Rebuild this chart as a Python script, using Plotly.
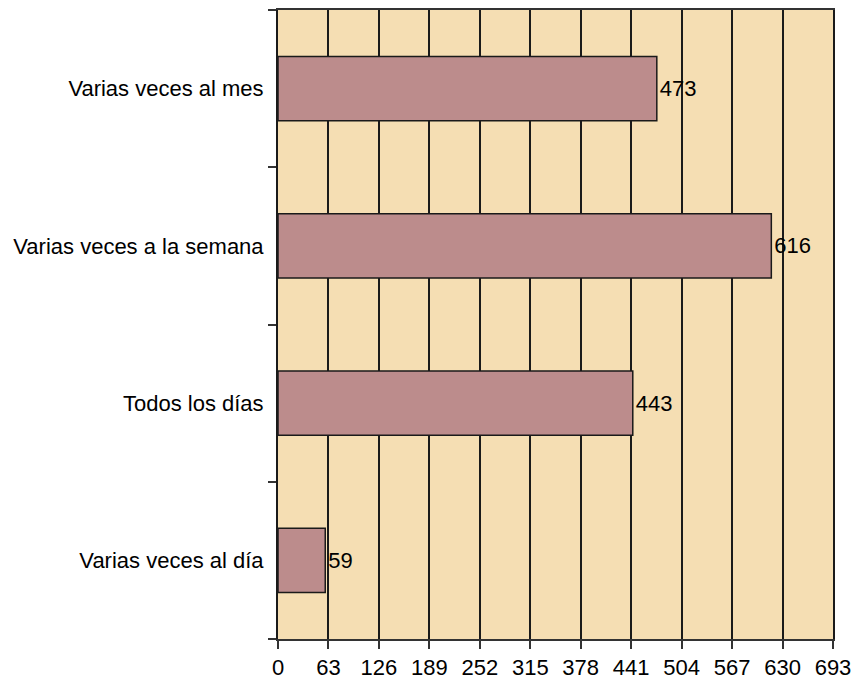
import plotly.graph_objects as go

categories = ["Varias veces al día", "Todos los días", "Varias veces a la semana", "Varias veces al mes"]
values = [59, 443, 616, 473]
x_ticks = [0, 63, 126, 189, 252, 315, 378, 441, 504, 567, 630, 693]

FONT = "Liberation Sans"
FS = 22

fig = go.Figure(go.Bar(
    y=categories,
    x=values,
    orientation="h",
    width=0.41,
    marker=dict(color="#BC8C8C", line=dict(color="#1a1a1a", width=1.5)),
    text=[str(v) for v in values],
    textposition="outside",
    textfont=dict(family=FONT, size=FS, color="#000000"),
    cliponaxis=False,
))

fig.update_layout(
    width=853, height=680,
    margin=dict(l=278, r=20, t=10, b=41, pad=0, autoexpand=False),
    paper_bgcolor="#FFFFFF",
    plot_bgcolor="#F5DEB3",
    showlegend=False,
    font=dict(family=FONT, size=FS, color="#000000"),
    bargap=0.59,
)

fig.update_xaxes(
    range=[0, 693],
    tickvals=x_ticks,
    ticktext=[str(t) for t in x_ticks],
    showgrid=True, gridcolor="#1a1a1a", gridwidth=1.5,
    showline=True, linecolor="#333333", linewidth=2, mirror=True,
    ticks="outside", ticklen=8, tickcolor="#333333", tickwidth=1.5,
    zeroline=False, automargin=False,
    tickfont=dict(family=FONT, size=FS, color="#000000"),
)

fig.update_yaxes(
    categoryorder="array", categoryarray=categories,
    showgrid=False,
    showline=True, linecolor="#1a1a1a", linewidth=2, mirror=True,
    ticks="outside", ticklen=8, tickcolor="#333333", tickwidth=1.5,
    tickson="boundaries", automargin=False,
    ticklabelstandoff=8,
    tickfont=dict(family=FONT, size=FS, color="#000000"),
)

# remove the default 8px page margin so the 853x680 figure fills the window
fig.write_html(
    "out.html",
    config={"displayModeBar": False},
    post_script="document.body.style.margin='0';",
)
